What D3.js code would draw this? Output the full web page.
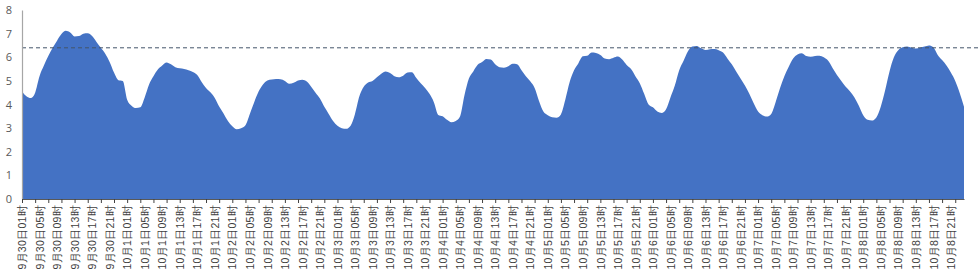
<!DOCTYPE html>
<html>
<head>
<meta charset="utf-8">
<script src="https://cdn.jsdelivr.net/npm/d3@7"></script>
<style>
  body { margin: 0; background: #fff; }
  svg { display: block; font-family: "Noto Sans CJK SC", "Noto Sans", sans-serif; }
</style>
</head>
<body>
<div id="chart"></div>
<script>
// hourly readings, 9月30日01时 .. 10月8日24时
var days = ['9月30日', '10月1日', '10月2日', '10月3日', '10月4日', '10月5日', '10月6日', '10月7日', '10月8日'];
var values = [
  4.55, 4.35, 4.27, 4.5, 5.2, 5.65, 6.05, 6.4, 6.7, 6.98, 7.12, 7.05, 6.88, 6.9, 7.0, 7.02, 6.9, 6.65, 6.4, 6.15, 5.8, 5.35, 5.03, 5.0,
  4.2, 3.95, 3.85, 3.88, 4.3, 4.85, 5.2, 5.48, 5.65, 5.78, 5.7, 5.58, 5.53, 5.5, 5.45, 5.38, 5.25, 4.95, 4.7, 4.52, 4.28, 3.92, 3.62, 3.3,
  3.08, 2.95, 3.0, 3.12, 3.6, 4.1, 4.55, 4.85, 5.02, 5.06, 5.08, 5.07, 5.0, 4.88, 4.92, 5.02, 5.05, 4.97, 4.75, 4.5, 4.25, 3.9, 3.6, 3.3,
  3.1, 3.0, 2.97, 3.1, 3.6, 4.35, 4.75, 4.93, 5.0, 5.15, 5.3, 5.4, 5.33, 5.2, 5.15, 5.22, 5.35, 5.37, 5.12, 4.9, 4.7, 4.45, 4.1, 3.56,
  3.5, 3.35, 3.25, 3.3, 3.5, 4.4, 5.1, 5.4, 5.68, 5.8, 5.93, 5.9, 5.7, 5.58, 5.56, 5.62, 5.72, 5.7, 5.45, 5.2, 4.98, 4.7, 4.15, 3.7,
  3.55, 3.46, 3.44, 3.58, 4.2, 4.95, 5.45, 5.75, 6.04, 6.06, 6.2, 6.18, 6.1, 5.95, 5.92, 5.98, 6.03, 5.9, 5.67, 5.5, 5.2, 4.9, 4.45, 4.0,
  3.88, 3.7, 3.64, 3.8, 4.3, 4.8, 5.45, 5.85, 6.25, 6.45, 6.48, 6.38, 6.31, 6.34, 6.35, 6.3, 6.2, 5.95, 5.7, 5.4, 5.1, 4.8, 4.45, 4.05,
  3.7, 3.55, 3.49, 3.6, 4.1, 4.69, 5.2, 5.6, 5.95, 6.12, 6.17, 6.05, 6.02, 6.05, 6.06, 6.0, 5.85, 5.55, 5.25, 5.0, 4.75, 4.55, 4.3, 3.95,
  3.55, 3.35, 3.32, 3.45, 3.9, 4.6, 5.4, 6.0, 6.3, 6.42, 6.45, 6.4, 6.37, 6.4, 6.45, 6.5, 6.42, 6.1, 5.88, 5.65, 5.35, 5.0, 4.5, 3.9
];
var threshold = 6.4;
var yTicks = [0, 1, 2, 3, 4, 5, 6, 7, 8];

// category names, one per hour
var categories = [];
days.forEach(function (d) {
  for (var h = 1; h <= 24; h++) {
    categories.push(d + (h < 10 ? '0' + h : h) + '时');
  }
});

var width = 978, height = 276;
var svg = d3.select('#chart').append('svg')
  .attr('width', width)
  .attr('height', height);

var x = d3.scaleLinear()
  .domain([0, values.length - 1])
  .range([22, 964]);

var y = d3.scaleLinear()
  .domain([0, 8])
  .range([199, 10]);

var area = d3.area()
  .curve(d3.curveMonotoneX)
  .x(function (d, i) { return x(i); })
  .y0(y(0))
  .y1(function (d) { return y(d); });

svg.append('path')
  .datum(values)
  .attr('fill', '#4472C4')
  .attr('d', area);

// threshold line
svg.append('line')
  .attr('x1', x(0))
  .attr('x2', 978)
  .attr('y1', y(threshold))
  .attr('y2', y(threshold))
  .attr('stroke', '#44546A')
  .attr('stroke-width', 1)
  .attr('stroke-dasharray', '4,3');

// y axis
var yAxis = svg.append('g')
  .attr('transform', 'translate(22,0)')
  .call(d3.axisLeft(y).tickValues(yTicks).tickSize(0).tickPadding(10));
yAxis.select('.domain').attr('stroke', '#A6A6A6').attr('stroke-width', 1.2);
yAxis.selectAll('text')
  .attr('fill', '#595959')
  .style('font-size', '11px')
  .style('font-family', 'Open Sans, sans-serif');

// x axis: tick marks every 3 hours
var tickIdx = d3.range(0, values.length, 3);
var xTicks = svg.append('g')
  .attr('transform', 'translate(0,' + y(0) + ')')
  .call(d3.axisBottom(x).tickValues(tickIdx).tickSize(4).tickFormat('').tickSizeOuter(0));
xTicks.select('.domain').attr('stroke', '#595959');
xTicks.selectAll('.tick line').attr('stroke', '#404040');

// x labels every 4 hours
var labelIdx = d3.range(0, values.length, 4);
var xLabels = svg.append('g')
  .attr('transform', 'translate(0,' + y(0) + ')')
  .call(d3.axisBottom(x).tickValues(labelIdx).tickSize(0)
    .tickFormat(function (i) { return categories[i]; }));
xLabels.select('.domain').remove();
xLabels.selectAll('text')
  .attr('fill', '#404040')
  .style('font-size', '10.5px')
  .style('letter-spacing', '0.3px')
  .attr('text-anchor', 'end')
  .attr('dy', '0.35em')
  .attr('transform', 'translate(0,6) rotate(-90)')
  .attr('x', 0)
  .attr('y', 0);
</script>
</body>
</html>
